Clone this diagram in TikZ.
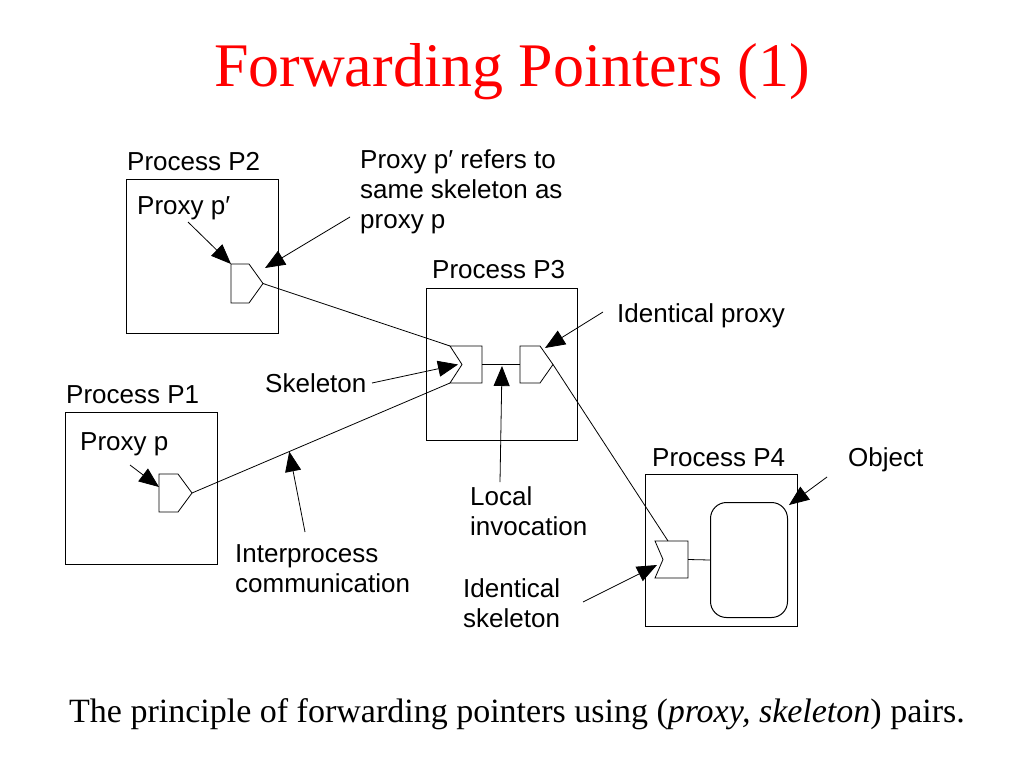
\documentclass[tikz,border=0pt]{standalone}
\usepackage{fontspec}
\setmainfont{Liberation Serif}
\newfontfamily\diagfont{Liberation Sans}
\usetikzlibrary{arrows.meta,positioning,calc}

\begin{document}
\begin{tikzpicture}[x=1pt,y=-1pt]
% Styles

   \tikzset{procbox/.style={draw, line width=1pt, inner sep=0pt, anchor=north west},
            lbl/.style={font=\fontsize{26}{30}\selectfont\diagfont, inner sep=0pt, align=left, anchor=base west},
            link/.style={line width=0.8pt},
            pointer/.style={line width=0.8pt, -{Triangle[length=20pt,width=16pt]}}}

\useasboundingbox (0,0) rectangle (1024,768);

% Title and caption
\node[font=\fontsize{62}{70}\selectfont, text=red, anchor=base, inner sep=0pt] (title) at (512,86) {Forwarding Pointers (1)};
\node[font=\fontsize{34}{40}\selectfont, anchor=base, inner sep=0pt] (caption) at (517,722) {The principle of forwarding pointers using (\textit{proxy, skeleton}) pairs.};

% Process boxes
\node[procbox, minimum width=152pt, minimum height=154pt] (P2) at (126,179) {};
\node[procbox, minimum width=151pt, minimum height=152pt] (P3) at (426,288) {};
\node[procbox, minimum width=152pt, minimum height=152pt] (P1) at (65,412) {};
\node[procbox, minimum width=152pt, minimum height=152pt] (P4) at (645,474) {};
\node[draw, line width=1pt, rounded corners=16pt, inner sep=0pt, anchor=north west,
      minimum width=77pt, minimum height=115pt] (obj) at (710,502) {};

% Proxies
\draw[link] (231,264) -- (249,264) -- (263,283.5) coordinate (p2tip) -- (249,303) -- (231,303) coordinate (p2bl) -- cycle;
\coordinate (p2tl) at (231,264);
\draw[link] (159,474) -- (178,474) -- (192,493) coordinate (p1tip) -- (178,512) -- (159,512) -- cycle;
\coordinate (p1tl) at (159,474);
\draw[link] (520,346) coordinate (p3tl) -- (540,346) -- (553,364.5) coordinate (p3tip) -- (540,383) -- (520,383) -- cycle;
\coordinate (p3left) at (520,364.5);

% Skeletons
\draw[link] (450,346) coordinate (s3tl) -- (482,346) -- (482,383) -- (450,383) coordinate (s3bl) -- (462,364.5) coordinate (s3in) -- cycle;
\coordinate (s3right) at (482,364.5);
\draw[link] (655,541) coordinate (s4tl) -- (688,541) -- (688,578) -- (655,578) coordinate (s4bl) -- (663,559.5) coordinate (s4in) -- cycle;
\coordinate (s4right) at (688,559.5);
\coordinate (s4top) at (668,541);

% Connections
\draw[link] (p2tip) -- (s3tl);
\draw[link] (p1tip) -- (s3bl);
\draw[link] (s3right) -- (p3left);
\draw[link] (p3tip) -- (s4top);
\draw[link] (s4right) -- (obj.west);

% Labels
\node[lbl] (lP2) at (127,170) {Process P2};
\node[lbl] (lP3) at (432,278) {Process P3};
\node[lbl] (lP1) at (66,403) {Process P1};
\node[lbl] (lP4) at (652,466) {Process P4};
\node[lbl] (lpp) at (137,214) {Proxy p′};
\node[lbl] (lp) at (80,450) {Proxy p};
\node[lbl] (lrefers) at (360,228) {Proxy p′ refers to\\same skeleton as\\proxy p};
\node[lbl] (lidp) at (617,322) {Identical proxy};
\node[lbl] (lskel) at (265,392) {Skeleton};
\node[lbl] (lobj) at (848,466) {Object};
\node[lbl] (llocal) at (470,535) {Local\\invocation};
\node[lbl] (linter) at (235,592) {Interprocess\\communication};
\node[lbl] (lids) at (463,627) {Identical\\skeleton};

% Pointers
\coordinate (tpp) at (188,222);
\coordinate (tp) at (130,465);
\coordinate (trefers) at (350,217);
\coordinate (tidp) at (603,312);
\coordinate (tskel) at (372,383);
\coordinate (tlocal) at (500,482);
\coordinate (tinter) at (305,532);
\coordinate (tids) at (583,602);
\coordinate (tobj) at (827,477);
\coordinate (hinter) at ($(p1tip)!0.377!(s3bl)$);

\draw[pointer] (tpp) -- (p2tl);
\draw[pointer] (tp) -- (p1tl |- 0,487);
\draw[pointer] (trefers) -- (265,268);
\draw[pointer] (tidp) -- (545,348);
\draw[pointer] (tskel) -- (458,364.5);
\draw[pointer] (tlocal) -- (502,366);
\draw[pointer] (tinter) -- (hinter);
\draw[pointer] (tids) -- (657,565);
\draw[pointer] (tobj) -- (789,505);
\end{tikzpicture}
\end{document}
